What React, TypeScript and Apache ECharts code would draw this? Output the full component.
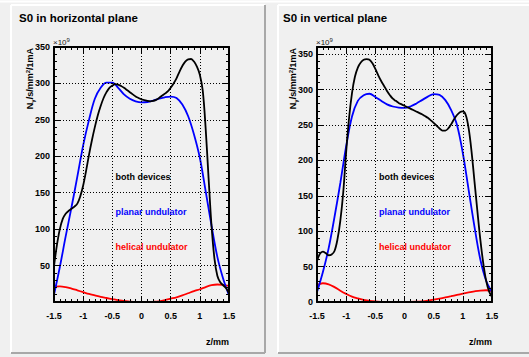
import React, { useEffect, useRef } from "react";
import * as echarts from "echarts";

// x grids
const xs05 = [
  -1.5, -1.45, -1.4, -1.35, -1.3, -1.25, -1.2, -1.15, -1.1, -1.05, -1.0, -0.95, -0.9, -0.85, -0.8, -0.75,
  -0.7, -0.65, -0.6, -0.55, -0.5, -0.45, -0.4, -0.35, -0.3, -0.25, -0.2, -0.15, -0.1, -0.05, 0, 0.05, 0.1,
  0.15, 0.2, 0.25, 0.3, 0.35, 0.4, 0.45, 0.5, 0.55, 0.6, 0.65, 0.7, 0.75, 0.8, 0.85, 0.9, 0.95, 1.0, 1.05,
  1.1, 1.15, 1.2, 1.25, 1.3, 1.35, 1.4, 1.45, 1.5,
];
const xs10 = [
  -1.5, -1.4, -1.3, -1.2, -1.1, -1.0, -0.9, -0.8, -0.7, -0.6, -0.5, -0.4, -0.3, -0.2, -0.1, 0, 0.1, 0.2, 0.3,
  0.4, 0.5, 0.6, 0.7, 0.8, 0.9, 1.0, 1.1, 1.2, 1.3, 1.4, 1.5,
];

// horizontal plane (units of 1e9)
const hBoth = [
  49, 78, 100, 114, 121, 125, 128, 131, 135, 145, 160, 180, 202, 222, 240, 256, 269, 280, 288, 294, 297, 299,
  298.5, 296.5, 294, 291, 288, 285, 282, 280, 278, 277, 276, 275.5, 276, 277.5, 280, 283, 286, 289, 294, 300,
  307, 316, 324, 330, 333, 333.5, 330, 323, 312, 290, 238, 170, 105, 60, 36, 27, 23, 19, 12,
];
const hPlanar = [
  10, 48, 90, 130, 172, 215, 250, 279, 294, 301, 301, 294, 285, 279, 275.5, 274, 274.5, 276.5, 279, 281, 282,
  280, 271, 255, 230, 198, 152, 105, 62, 32, 9,
];
const hHelical = [
  21, 21.5, 20.5, 18.5, 16, 13.5, 11, 9, 7, 5.5, 4, 2.5, 1.5, 0.5, 0, 0, 0, 0.3, 1, 2.5, 4.5, 6.5, 9, 12, 15,
  17.5, 20.5, 23, 24, 23.5, 22,
];

// vertical plane (units of 1e9)
const vBoth = [
  58, 68, 71, 69, 66, 67, 72, 88, 115, 155, 212, 260, 295, 318, 331, 338, 342, 343, 342, 337, 329, 320, 312,
  305, 298, 292, 287, 284, 281, 279, 277, 275, 273, 271, 269, 267, 265, 262.5, 260, 256.5, 253, 249, 245, 242,
  242, 245, 251, 258, 264, 268, 269, 264, 245, 212, 170, 128, 88, 55, 30, 15, 7,
];
const vPlanar = [
  14, 42, 76, 120, 168, 220, 262, 284, 292, 294, 289.5, 284, 279, 276, 274.5, 274, 276, 280, 285, 290, 293.5,
  292.5, 285, 271, 250, 210, 158, 106, 60, 30, 14,
];
const vHelical = [
  24, 26.5, 25, 21, 16, 11.5, 7.5, 5, 3, 1.5, 0.7, 0.3, 0.1, 0, 0, 0, 0.1, 0.4, 1, 2, 3.3, 4.8, 6.5, 8.2, 10,
  11.8, 13.5, 15, 16.2, 16.6, 15.5,
];

const xTicks = [-1.5, 1.5];
const titles = ["S0 in horizontal plane", "S0 in vertical plane"];
const curveLabels = ["both devices", "planar undulator", "helical undulator"];
const yMax = [350, 360];

const FONT = "'Liberation Sans', Arial, Helvetica, sans-serif";
const grids = [
  { left: 54, top: 47, width: 175, height: 255 },
  { left: 317, top: 47, width: 175, height: 255 },
];

function pairs(xs: number[], ys: number[]) {
  return xs.map((x, i) => [x, ys[i]]);
}

export default function App() {
  const ref = useRef<HTMLDivElement>(null);
  useEffect(() => {
    if (!ref.current) return;
    const chart = echarts.init(ref.current, null, { renderer: "svg" });
    const dotted = { color: "#000", width: 1, type: [1, 2] as any };
    const xAxes: any[] = [];
    const yAxes: any[] = [];
    [0, 1].forEach((g) => {
      const baseX = {
        type: "value",
        gridIndex: g,
        min: xTicks[0],
        max: xTicks[1],
        interval: 0.5,
        axisLine: { show: true, onZero: false, lineStyle: { color: "#000", width: 2 } },
        axisTick: { show: true, inside: true, length: 6, lineStyle: { color: "#000", width: 1 } },
        minorTick: { show: true, splitNumber: 5, length: 3, lineStyle: { color: "#000", width: 1 } },
        z: 3,
      };
      xAxes.push({
        ...baseX,
        position: "bottom",
        axisLabel: {
          show: true,
          margin: 9,
          fontSize: 9,
          fontWeight: "bold",
          fontFamily: FONT,
          color: "#000",
          showMinLabel: true,
          showMaxLabel: true,
          formatter: (v: number) => String(v),
        },
        splitLine: { show: true, lineStyle: dotted },
      });
      xAxes.push({
        ...baseX,
        position: "top",
        axisLabel: { show: false },
        splitLine: { show: false },
      });
      const baseY = {
        type: "value",
        gridIndex: g,
        min: 0,
        max: yMax[g],
        interval: 50,
        axisLine: { show: true, onZero: false, lineStyle: { color: "#000", width: 2 } },
        axisTick: { show: true, inside: true, length: 6, lineStyle: { color: "#000", width: 1 } },
        minorTick: { show: true, splitNumber: 5, length: 3, lineStyle: { color: "#000", width: 1 } },
        z: 3,
      };
      yAxes.push({
        ...baseY,
        position: "left",
        axisLabel: {
          show: true,
          margin: 4,
          fontSize: 9,
          fontWeight: "bold",
          fontFamily: FONT,
          color: "#000",
          showMinLabel: true,
          showMaxLabel: true,
          formatter: (v: number) => {
            if (v % 50 !== 0) return "";
            if (g === 0 && v === 0) return "";
            return String(v);
          },
        },
        splitLine: { show: true, lineStyle: dotted },
      });
      yAxes.push({
        ...baseY,
        position: "right",
        axisLabel: { show: false },
        splitLine: { show: false },
      });
    });

    const mk = (name: string, g: number, data: number[][], color: string) => ({
      name,
      type: "line",
      xAxisIndex: g * 2,
      yAxisIndex: g * 2,
      data,
      smooth: 0.35,
      showSymbol: false,
      symbol: "none",
      lineStyle: { color, width: 1.8 },
      z: 2,
    });

    const series = [
      mk("h-helical", 0, pairs(xs10, hHelical), "#ff0000"),
      mk("h-planar", 0, pairs(xs10, hPlanar), "#0000ff"),
      mk("h-both", 0, pairs(xs05, hBoth), "#000000"),
      mk("v-helical", 1, pairs(xs10, vHelical), "#ff0000"),
      mk("v-planar", 1, pairs(xs10, vPlanar), "#0000ff"),
      mk("v-both", 1, pairs(xs05, vBoth), "#000000"),
    ];

    const graphics: any[] = [];
    // canvas top highlight
    graphics.push({ type: "line", shape: { x1: 0, y1: 1.5, x2: 529, y2: 1.5 }, style: { stroke: "#ffffff", lineWidth: 2 }, z: -1 });
    const pads = [
      { x1: 11, x2: 265, y1: 5, y2: 353 },
      { x1: 278, x2: 531, y1: 5, y2: 353 },
    ];
    pads.forEach((p) => {
      graphics.push({ type: "line", shape: { x1: p.x1, y1: p.y1, x2: p.x2, y2: p.y1 }, style: { stroke: "#ffffff", lineWidth: 2 }, z: -1 });
      graphics.push({ type: "line", shape: { x1: p.x1, y1: p.y1, x2: p.x1, y2: p.y2 }, style: { stroke: "#ffffff", lineWidth: 2 }, z: -1 });
      graphics.push({ type: "line", shape: { x1: p.x1, y1: p.y2, x2: p.x2, y2: p.y2 }, style: { stroke: "#a8a8a8", lineWidth: 2 }, z: -1 });
      graphics.push({ type: "line", shape: { x1: p.x2, y1: p.y1, x2: p.x2, y2: p.y2 }, style: { stroke: "#a8a8a8", lineWidth: 2 }, z: -1 });
    });

    const colors = ["#000000", "#0000ff", "#ff0000"];
    const labelY = [177, 212, 247];
    [0, 1].forEach((g) => {
      const gr = grids[g];
      const titleX = g === 0 ? 19 : 283;
      graphics.push({
        type: "text",
        x: titleX,
        y: 18,
        style: { text: titles[g], font: `bold 11.5px ${FONT}`, fill: "#000", textVerticalAlign: "middle" },
        z: 10,
      });
      // x10^9
      graphics.push({
        type: "text",
        x: gr.left - 1,
        y: 42,
        style: {
          text: "×10{s|9}",
          font: `8px ${FONT}`,
          fill: "#222",
          textVerticalAlign: "middle",
          rich: { s: { fontSize: 6, fontFamily: FONT, verticalAlign: "top", padding: [0, 0, 4, 0] } },
        },
        z: 10,
      });
      // y-axis title
      graphics.push({
        type: "text",
        x: g === 0 ? 30 : 293,
        y: gr.top + 1,
        rotation: Math.PI / 2,
        style: {
          text: "N{sub|γ}/s/mm{sup|2}/1mA",
          font: `bold 9px ${FONT}`,
          fill: "#000",
          textAlign: "right",
          textVerticalAlign: "middle",
          rich: {
            sub: { fontSize: 6, fontWeight: "bold", fontFamily: FONT, padding: [5, 0, 0, 0] },
            sup: { fontSize: 6, fontWeight: "bold", fontFamily: FONT, padding: [0, 0, 5, 0] },
          },
        },
        z: 10,
      });
      // x-axis title
      graphics.push({
        type: "text",
        x: gr.left + gr.width,
        y: 342,
        style: { text: "z/mm", font: `bold 9px ${FONT}`, fill: "#000", textAlign: "right", textVerticalAlign: "middle" },
        z: 10,
      });
      const lx = g === 0 ? 115.5 : 379;
      curveLabels.forEach((t, i) => {
        graphics.push({
          type: "text",
          x: lx,
          y: labelY[i],
          style: { text: t, font: `bold 9px ${FONT}`, fill: colors[i], textVerticalAlign: "middle" },
          z: 10,
        });
      });
    });

    chart.setOption({
      animation: false,
      backgroundColor: "#f0f0f0",
      grid: grids.map((g) => ({ ...g, containLabel: false })),
      xAxis: xAxes,
      yAxis: yAxes,
      series,
      graphic: graphics,
    });
    return () => chart.dispose();
  }, []);
  return (
    <div
      ref={ref}
      style={{ position: "fixed", left: 0, top: 0, width: 529, height: 357 }}
    />
  );
}
